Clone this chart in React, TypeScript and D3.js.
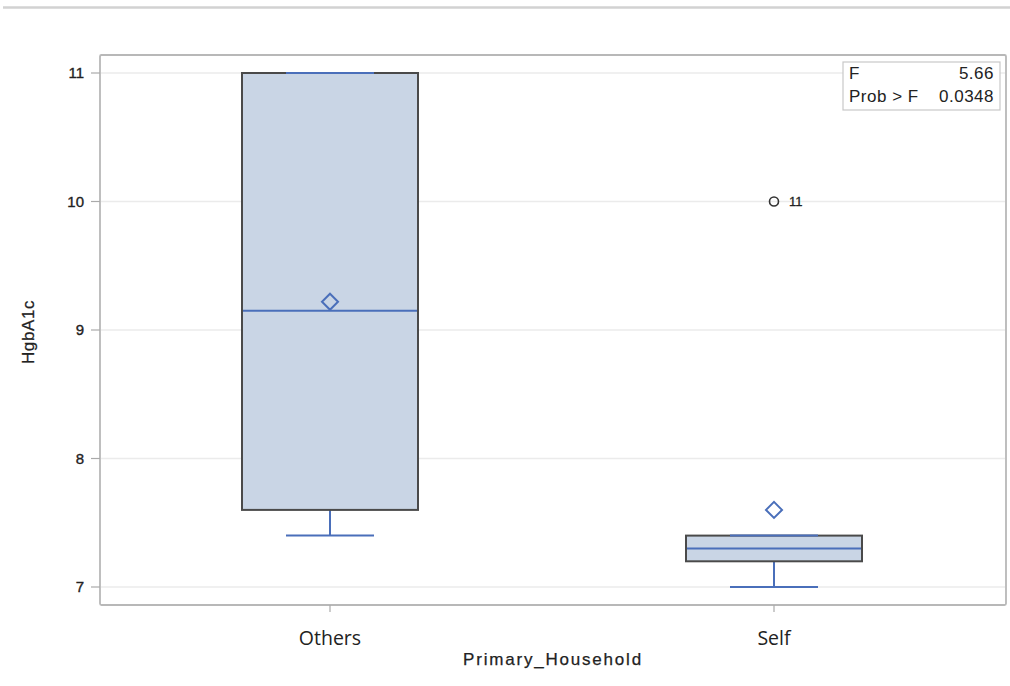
import React from "react";
import * as d3 from "d3";

const categories = ["Others", "Self"];
const q1 = [7.6, 7.2];
const median = [9.15, 7.3];
const q3 = [11, 7.4];
const whiskerLow = [7.4, 7.0];
const whiskerHigh = [11, 7.4];
const means = [9.22, 7.6];
const outliers = [{ cat: "Self", value: 10, label: "11" }];
const yTicks = [7, 8, 9, 10, 11];
const statLabels = ["F", "Prob > F"];
const statValues = ["5.66", "0.0348"];

const W = 1010, H = 686;
const frame = { left: 100, right: 1006, top: 55, bottom: 605 };
const blue = "#4a6fba";
const font = "'Liberation Sans', Arial, sans-serif";
const font2 = "'Open Sans', 'Noto Sans', sans-serif";

export default function App() {
  const y = d3.scaleLinear().domain([7, 11]).range([587, 73]);
  const x = d3.scaleBand<string>().domain(categories).range([108, 996]).paddingInner(0.0).paddingOuter(0);
  const cx = (c: string) => (x(c) as number) + x.bandwidth() / 2;
  const boxW = 176;
  const capW = 88;
  return (
    <div style={{ position: "absolute", left: 0, top: 0 }}>
      <svg width={W} height={H} style={{ display: "block", background: "#fff" }}>
        <line x1={3} x2={1010} y1={7.5} y2={7.5} stroke="#d2d2d2" strokeWidth={2.5} />
        <rect x={frame.left} y={frame.top} width={frame.right - frame.left} height={frame.bottom - frame.top} rx={1.5} fill="#fff" stroke="#b8b8b8" strokeWidth={1.8} />
        {yTicks.map((t) => (
          <g key={t}>
            <line x1={frame.left + 1} x2={frame.right - 1} y1={y(t)} y2={y(t)} stroke="#ebebeb" strokeWidth={1.5} />
            <line x1={91} x2={frame.left} y1={y(t)} y2={y(t)} stroke="#aaa" strokeWidth={1.2} />
            <text x={84} y={y(t)} dy="0.36em" textAnchor="end" fontFamily={font} fontSize={15} fill="#222" stroke="#222" strokeWidth={0.35}>{t}</text>
          </g>
        ))}
        {categories.map((c, i) => {
          const m = cx(c);
          const d = 8;
          return (
            <g key={c}>
              <line x1={m} x2={m} y1={frame.bottom} y2={frame.bottom + 7} stroke="#aaa" strokeWidth={1.2} />
              <text x={m} y={645} textAnchor="middle" fontFamily={font2} fontSize={19.5} fill="#222">{c}</text>
              <line x1={m} x2={m} y1={y(q1[i])} y2={y(whiskerLow[i])} stroke={blue} strokeWidth={2} />
              <line x1={m - capW / 2} x2={m + capW / 2} y1={y(whiskerLow[i])} y2={y(whiskerLow[i])} stroke={blue} strokeWidth={2} />
              <line x1={m} x2={m} y1={y(q3[i])} y2={y(whiskerHigh[i])} stroke={blue} strokeWidth={2} />
              <rect x={m - boxW / 2} y={y(q3[i])} width={boxW} height={y(q1[i]) - y(q3[i])} fill="#c9d5e5" stroke="#4a4a4a" strokeWidth={2} />
              <line x1={m - capW / 2} x2={m + capW / 2} y1={y(whiskerHigh[i])} y2={y(whiskerHigh[i])} stroke={blue} strokeWidth={2} />
              <line x1={m - boxW / 2 + 1} x2={m + boxW / 2 - 1} y1={y(median[i])} y2={y(median[i])} stroke={blue} strokeWidth={2} />
              <path d={`M${m},${y(means[i]) - d} L${m + d},${y(means[i])} L${m},${y(means[i]) + d} L${m - d},${y(means[i])} Z`} fill="none" stroke={blue} strokeWidth={2} />
            </g>
          );
        })}
        {outliers.map((o, k) => (
          <g key={k}>
            <circle cx={cx(o.cat)} cy={y(o.value)} r={4.5} fill="none" stroke="#333" strokeWidth={1.6} />
            <text x={cx(o.cat) + 15} y={y(o.value)} dy="0.36em" fontFamily={font} fontSize={13} fill="#222" stroke="#222" strokeWidth={0.3}>{o.label}</text>
          </g>
        ))}
        <text x={553} y={665} textAnchor="middle" fontFamily={font} fontSize={17} letterSpacing={1.8} fill="#222" stroke="#222" strokeWidth={0.25}>Primary_Household</text>
        <text transform={`translate(34,332) rotate(-90)`} textAnchor="middle" fontFamily={font} fontSize={17} letterSpacing={0.6} fill="#222" stroke="#222" strokeWidth={0.25}>HgbA1c</text>
        <rect x={843} y={62} width={157} height={48} fill="#fff" stroke="#c8c8c8" strokeWidth={1.2} />
        {statLabels.map((s, i) => (
          <g key={s}>
            <text x={849} y={73 + i * 22.5} dy="0.36em" fontFamily={font} fontSize={17} letterSpacing={0.5} fill="#222">{s}</text>
            <text x={994} y={73 + i * 22.5} dy="0.36em" textAnchor="end" fontFamily={font} fontSize={17} letterSpacing={0.5} fill="#222">{statValues[i]}</text>
          </g>
        ))}
      </svg>
    </div>
  );
}
